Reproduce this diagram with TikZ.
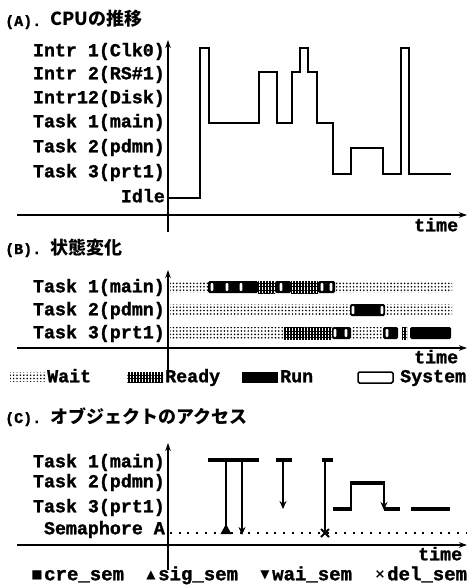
\documentclass[tikz,border=0pt]{standalone}
\usepackage{fontspec}
\newfontfamily\cmono{Liberation Mono Bold}[FakeBold=1.4]
\newfontfamily\jpfont{Noto Sans CJK JP}
\newfontfamily\symfont{DejaVu Sans}
\usetikzlibrary{arrows.meta,patterns.meta}
\newcommand\lbfont{\cmono\fontsize{18.3}{20}\selectfont}
\newcommand\ttlfont{\cmono\fontsize{15}{17}\selectfont}
\newcommand\jpttl{\jpfont\bfseries\fontsize{18}{20}\selectfont}
\newcommand\legfont{\cmono\fontsize{19}{20}\selectfont}
\tikzset{
  lbl/.style={font=\lbfont, anchor=east, inner sep=0pt, text height=10.5pt, text depth=0pt},
  leglbl/.style={font=\lbfont, anchor=west, inner sep=0pt, text height=10.5pt, text depth=0pt},
  ttl/.style={anchor=base west, inner sep=0pt},
  axis/.style={line width=1.8pt, -{Stealth[length=8pt,width=5.5pt]}},
  wave/.style={line width=2pt, line join=miter},
  waitfill/.style={pattern={Dots[distance=3.4pt,radius=0.9pt]}},
  readyA/.style={pattern={Lines[angle=90,distance=3pt,line width=1.3pt]}},
  readyB/.style={pattern={Lines[angle=0,distance=3.4pt,line width=0.7pt]}},
  runfill/.style={fill=black, rounded corners=1.5pt},
  slotfill/.style={fill=white, rounded corners=1pt},
  sysbox/.style={draw=black, fill=white, line width=1.5pt, rounded corners=1.5pt},
  tbar/.style={line width=3.2pt},
  tvert/.style={line width=1.8pt},
  darr/.style={line width=1.8pt, -{Stealth[length=8pt,width=7pt]}},
  semline/.style={line width=2pt, dash pattern=on 2pt off 6.7pt},
  legsym/.style={font=\symfont\fontsize{12}{12}\selectfont, inner sep=0pt},
  legtxt/.style={font=\legfont, anchor=west, inner sep=0pt, text height=10.5pt, text depth=0pt},
}
\newcommand\waitbar[3]{\fill[waitfill] (#1,#3-5.5) rectangle (#2,#3+5.5);}
\newcommand\runbar[3]{\fill[runfill] (#1,#3-6) rectangle (#2,#3+6);}
\newcommand\readybar[3]{\fill[readyA] (#1,#3-6) rectangle (#2,#3+6);\fill[readyB] (#1,#3-6) rectangle (#2,#3+6);}
\newcommand\sysslot[2]{\fill[slotfill] (#1-1.3,#2-4) rectangle (#1+1.3,#2+4);}
\begin{document}
\begin{tikzpicture}[x=1pt,y=-1pt]
\useasboundingbox (0,0) rectangle (470,586);
\fill[white] (0,0) rectangle (470,586);

% ---------------- (A)
\node[ttl] (ta) at (5,26) {{\ttlfont (A).}\hspace{9pt}{\jpttl CPUの推移}};
\draw[axis] (168,232) -- (168,40);
\draw[axis] (17,215) -- (467,215);
\node[lbl] (a1) at (165,51) {Intr 1(Clk0)};
\node[lbl] (a2) at (165,74) {Intr 2(RS\#1)};
\node[lbl] (a3) at (165,98) {Intr12(Disk)};
\node[lbl] (a4) at (165,122) {Task 1(main)};
\node[lbl] (a5) at (165,147) {Task 2(pdmn)};
\node[lbl] (a6) at (165,172) {Task 3(prt1)};
\node[lbl] (a7) at (165,197) {Idle};
\node[leglbl] (atime) at (414,226) {time};
\draw[wave] (168,198) -- (200,198) -- (200,48) -- (209,48) -- (209,123) -- (259,123)
  -- (259,72) -- (277,72) -- (277,123) -- (292,123) -- (292,72) -- (300,72) -- (300,48)
  -- (308,48) -- (308,72) -- (317,72) -- (317,123) -- (333,123) -- (333,174) -- (351,174)
  -- (351,148) -- (383,148) -- (383,174) -- (401,174) -- (401,48) -- (409,48) -- (409,174)
  -- (451,174);

% ---------------- (B)
\node[ttl] (tb) at (5,254) {{\ttlfont (B).}\hspace{9pt}{\jpttl 状態変化}};
\draw[axis] (168,375) -- (168,270);
\draw[axis] (17,348) -- (467,348);
\node[lbl] (b1) at (165,287) {Task 1(main)};
\node[lbl] (b2) at (165,310) {Task 2(pdmn)};
\node[lbl] (b3) at (165,333) {Task 3(prt1)};
\node[leglbl] (btime) at (414,358) {time};
% Task 1
\waitbar{170}{208}{287}
\runbar{208}{258}{287} \sysslot{212}{287}\sysslot{227}{287}\sysslot{241}{287}
\readybar{258}{275}{287}
\runbar{275}{291}{287} \sysslot{281}{287}
\readybar{291}{318}{287}
\runbar{318}{335}{287} \sysslot{322}{287}\sysslot{331}{287}
\waitbar{335}{452}{287}
% Task 2
\waitbar{170}{350}{310}
\runbar{350}{385}{310} \sysslot{353}{310}\sysslot{382}{310}
\waitbar{385}{452}{310}
% Task 3
\waitbar{170}{284}{333}
\readybar{284}{332}{333}
\runbar{332}{351}{333} \sysslot{335}{333}\sysslot{346}{333}
\waitbar{351}{383}{333}
\runbar{383}{398}{333} \sysslot{387}{333}
\readybar{402}{407}{333}
\runbar{410}{451}{333}
% legend
\fill[waitfill] (10,372.5) rectangle (45,381.5);
\node[leglbl] (lw) at (47,377) {Wait};
\fill[readyA] (127,372) rectangle (163,382);\fill[readyB] (127,372) rectangle (163,382);
\node[leglbl] (lr) at (165,377) {Ready};
\fill (242,372) rectangle (278,383);
\node[leglbl] (lru) at (280,377) {Run};
\draw[sysbox] (358,372) rectangle (393,383);
\node[leglbl] (ls) at (400,377) {System};

% ---------------- (C)
\node[ttl] (tc) at (5,423) {{\ttlfont (C).}\hspace{9pt}{\jpttl オブジェクトのアクセス}};
\draw[axis] (168,570) -- (168,443);
\draw[axis] (17,545) -- (467,545);
\node[lbl] (c1) at (165,462) {Task 1(main)};
\node[lbl] (c2) at (165,482) {Task 2(pdmn)};
\node[lbl] (c3) at (165,507) {Task 3(prt1)};
\node[lbl] (c4) at (165,529) {Semaphore A};
\node[leglbl] (ctime) at (418,555) {time};
\coordinate (semL) at (170,533);
\coordinate (semR) at (466,533);
\draw[semline] (semL) -- (semR);
% Task 1 accesses
\draw[tbar] (208,460) -- (259,460);
\draw[tbar] (276,460) -- (292,460);
\draw[tbar] (322,460) -- (333,460);
\draw[tvert] (226,460) -- (226,528);
\fill (220.5,534) -- (231.5,534) -- (226,524) -- cycle;
\draw[darr] (242,460) -- (242,535);
\draw[darr] (283,460) -- (283,509);
\draw[tvert] (325,460) -- (325,531);
\draw[line width=2pt] (321,529) -- (329,537) (321,537) -- (329,529);
% Task 3 line
\draw[tbar] (333,509) -- (352,509);
\draw[tvert] (351,510) -- (351,482);
\draw[tbar] (350,483) -- (385,483);
\draw[darr] (384,482) -- (384,510);
\draw[tbar] (384,509) -- (400,509);
\draw[tbar] (411,509) -- (450,509);
% legend
\node[legsym] (s1) at (37,575) {■};
\node[legtxt] (k1) at (44,575) {cre\_sem};
\node[legsym] (s2) at (151,575) {▲};
\node[legtxt] (k2) at (158,575) {sig\_sem};
\node[legsym] (s3) at (265,575) {▼};
\node[legtxt] (k3) at (272,575) {wai\_sem};
\node[legsym, font=\symfont\bfseries\fontsize{13}{13}\selectfont] (s4) at (380,575) {×};
\node[legtxt] (k4) at (387,575) {del\_sem};
\end{tikzpicture}
\end{document}
